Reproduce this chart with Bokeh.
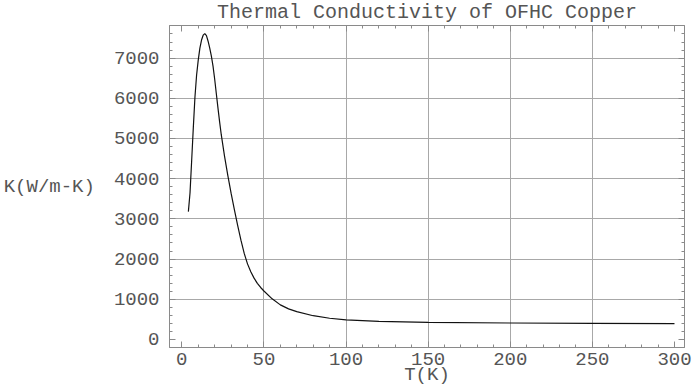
from bokeh.plotting import figure
from bokeh.models import FixedTicker, LinearAxis, CustomJSTickFormatter
from bokeh.embed import file_html
from bokeh.resources import INLINE

# Data
temperature_K = [4, 5, 6, 7, 8, 9, 10, 11, 12, 13, 14, 15, 16, 17, 18, 19, 20,
                 21, 22, 23, 24, 26, 28, 30, 32, 34, 36, 38, 40, 42, 44, 46, 48,
                 50, 55, 60, 65, 70, 80, 90, 100, 120, 150, 200, 250, 300]
conductivity = [3180, 3650, 4450, 5270, 6030, 6580, 6950, 7250, 7450, 7570, 7610,
                7560, 7420, 7250, 7050, 6800, 6480, 6120, 5760, 5420, 5100, 4560,
                4080, 3640, 3230, 2840, 2470, 2140, 1880, 1685, 1525, 1395, 1292,
                1205, 1010, 860, 760, 690, 590, 527, 485, 450, 425, 408, 400, 394]

x_major = [0, 50, 100, 150, 200, 250, 300]
x_minor = [v for v in range(10, 300, 10) if v % 50 != 0]
y_major = [0, 1000, 2000, 3000, 4000, 5000, 6000, 7000]
y_minor = [v for v in range(200, 7800, 200) if v % 1000 != 0]
x_grid = [50, 100, 150, 200, 250]
y_grid = [1000, 2000, 3000, 4000, 5000, 6000, 7000]

title_text = "Thermal Conductivity of OFHC Copper"
x_label = "T(K)"
y_label = "K(W/m-K)"

FONT = "Liberation Mono"
TXT = "#555555"
FRAME = "#8a8a8a"

X0, X1 = -7.5, 306.1
Y0, Y1 = -201, 7811

p = figure(width=692, height=391, x_range=(X0, X1), y_range=(Y0, Y1),
           output_backend="svg", toolbar_location=None,
           min_border_left=167, min_border_right=8, min_border_top=25,
           min_border_bottom=44)
p.background_fill_color = "white"
p.border_fill_color = "white"
p.outline_line_color = FRAME
p.outline_line_width = 1

p.title.text = title_text
p.title.align = "center"
p.title.text_font = FONT
p.title.text_font_size = "20px"
p.title.text_font_style = "normal"
p.title.text_color = TXT
p.title.standoff = 0
p.title.vertical_align = "top"

xt = FixedTicker(ticks=x_major, minor_ticks=x_minor)
yt = FixedTicker(ticks=y_major, minor_ticks=y_minor)

for ax, tk in ((p.xaxis[0], xt), (p.yaxis[0], yt)):
    ax.ticker = tk
    ax.axis_line_color = FRAME
    ax.major_tick_in = 6
    ax.major_tick_out = 0
    ax.minor_tick_in = 3
    ax.minor_tick_out = 0
    ax.major_tick_line_color = FRAME
    ax.minor_tick_line_color = FRAME
    ax.major_label_text_font = FONT
    ax.major_label_text_font_size = "19px"
    ax.major_label_text_color = TXT
    ax.axis_label_text_font = FONT
    ax.axis_label_text_font_size = "19px"
    ax.axis_label_text_font_style = "normal"
    ax.axis_label_text_color = TXT

p.xaxis[0].major_label_standoff = 5
p.xaxis[0].axis_label = x_label
p.xaxis[0].axis_label_standoff = -4

yax = p.yaxis[0]
yax.major_label_standoff = 10
yax.axis_label = y_label
yax.axis_label_orientation = "horizontal"
yax.axis_label_standoff = 16

blank = CustomJSTickFormatter(code="return ''")
for loc, tk in (("above", xt), ("right", yt)):
    ax = LinearAxis(ticker=tk, axis_line_color=FRAME, formatter=blank,
                    major_tick_in=6, major_tick_out=0,
                    minor_tick_in=3, minor_tick_out=0,
                    major_tick_line_color=FRAME, minor_tick_line_color=FRAME,
                    major_label_standoff=0)
    p.add_layout(ax, loc)

p.xgrid.ticker = FixedTicker(ticks=x_grid)
p.ygrid.ticker = FixedTicker(ticks=y_grid)
p.xgrid.grid_line_color = "#a8a8a8"
p.ygrid.grid_line_color = "#a8a8a8"

p.line(temperature_K, conductivity, line_color="#111111", line_width=1.2)

open("out.html", "w").write(file_html(p, INLINE))
